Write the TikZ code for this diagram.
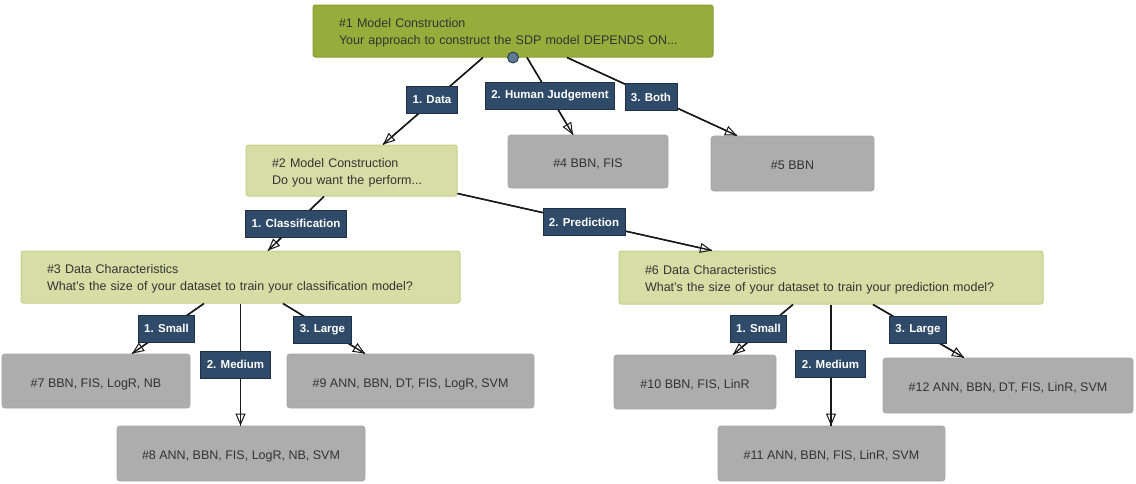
\documentclass[tikz,border=0pt]{standalone}
\usepackage{fontspec}
\setmainfont{Liberation Sans}
\usetikzlibrary{arrows.meta,calc}

\definecolor{rootfill}{HTML}{97AD3B}
\definecolor{rootedge}{HTML}{86A030}
\definecolor{qfill}{HTML}{D6DEA5}
\definecolor{qedge}{HTML}{C4D08C}
\definecolor{leaffill}{HTML}{ADADAD}
\definecolor{leafedge}{HTML}{A6A6A6}
\definecolor{tagfill}{HTML}{2F4B69}
\definecolor{tagedge}{HTML}{1D3045}
\definecolor{portfill}{HTML}{5E7B92}
\definecolor{ink}{HTML}{333333}

% tall strut opening the first line of a question box, so its text sits a little low
\newcommand{\qtop}{\rule{0pt}{13.5pt}}

\tikzset{
  question/.style={draw=qedge, fill=qfill, line width=1pt, rounded corners=2.5pt,
    text=ink, align=left, inner xsep=26pt, inner ysep=0pt,
    font=\fontsize{12.5}{17}\selectfont},
  rootq/.style={question, draw=rootedge, fill=rootfill},
  leaf/.style={draw=leafedge, fill=leaffill, line width=0.8pt, rounded corners=3pt,
    text=ink, inner sep=0pt, text height=12pt, text depth=0pt,
    font=\fontsize{12.5}{15}\selectfont},
  tag/.style={draw=tagedge, fill=tagfill, line width=0.9pt, text=white,
    minimum height=27pt, inner xsep=6pt, inner ysep=0pt,
    font=\bfseries\fontsize{11.5}{13}\selectfont},
  link/.style={draw=black!90, line width=1.4pt,
    -{Triangle[open, length=12pt, width=10pt, line width=1pt]},
    postaction={draw=black!90, line width=1.4pt, -}},
}

\begin{document}
\begin{tikzpicture}[x=1pt, y=-1pt]
\useasboundingbox[fill=white] (0,0) rectangle (1136,483);

% question boxes
\node[rootq, minimum width=400pt, text width=348pt, minimum height=52pt] (n1) at (513,31)
  {\qtop\#1 Model Construction\\Your approach to construct the SDP model DEPENDS ON...};
\node[question, minimum width=211pt, text width=159pt, minimum height=51pt] (n2) at (351.5,170.5)
  {\qtop\#2 Model Construction\\Do you want the perform...};
\node[question, minimum width=439pt, text width=387pt, minimum height=52pt] (n3) at (240.5,277)
  {\qtop\#3 Data Characteristics\\What's the size of your dataset to train your classification model?};
\node[question, minimum width=424pt, text width=372pt, minimum height=53pt] (n6) at (831,277.5)
  {\qtop\#6 Data Characteristics\\What's the size of your dataset to train your prediction model?};

% answer boxes
\node[leaf, minimum width=160pt, minimum height=53pt] (n4) at (588,161.5) {\#4 BBN, FIS};
\node[leaf, minimum width=163pt, minimum height=55pt] (n5) at (792.5,163.5) {\#5 BBN};
\node[leaf, minimum width=188pt, minimum height=54pt] (n7) at (96,381) {\#7 BBN, FIS, LogR, NB};
\node[leaf, minimum width=248pt, minimum height=55pt] (n8) at (241,453.5) {\#8 ANN, BBN, FIS, LogR, NB, SVM};
\node[leaf, minimum width=247pt, minimum height=54pt] (n9) at (410.5,381) {\#9 ANN, BBN, DT, FIS, LogR, SVM};
\node[leaf, minimum width=162pt, minimum height=54pt] (n10) at (695,382) {\#10 BBN, FIS, LinR};
\node[leaf, minimum width=227pt, minimum height=55pt] (n11) at (831.5,453.5) {\#11 ANN, BBN, FIS, LinR, SVM};
\node[leaf, minimum width=250pt, minimum height=55pt] (n12) at (1008,385.5) {\#12 ANN, BBN, DT, FIS, LinR, SVM};

% connectors
\draw[link] ([xshift=-30pt]n1.south) -- ([xshift=31.5pt]n2.north);
\draw[link] ([xshift=14pt]n1.south) -- ([xshift=-15pt]n4.north);
\draw[link] ([xshift=54pt]n1.south) -- ([xshift=-55.5pt]n5.north);
\draw[link] ([xshift=-27.5pt]n2.south) -- ([xshift=27.5pt]n3.north);
\draw[link] ([yshift=3pt]n2.south east) -- ([xshift=-119pt]n6.north);
\draw[link] ([xshift=-36.5pt]n3.south) -- ([xshift=36pt]n7.north);
\draw[link] (n3.south) -- (n3.south |- n8.north);
\draw[link] ([xshift=42.5pt]n3.south) -- ([xshift=-45.5pt]n9.north);
\draw[link] ([xshift=-38pt]n6.south) -- ([xshift=38pt]n10.north);
\draw[link] (n6.south) -- (n6.south |- n11.north);
\draw[link] ([xshift=42pt]n6.south) -- ([xshift=-44pt]n12.north);

% output port of the root question
\node[circle, draw=tagedge, fill=portfill, line width=0.8pt, minimum size=11pt, inner sep=0pt]
  (port) at (n1.south) {};

% answer tags
\node[tag] (t1) at (432,99.5) {1. Data};
\node[tag] (t2) at (550,96) {2. Human Judgement};
\node[tag] (t3) at (651,97) {3. Both};
\node[tag] (t4) at (296,223.5) {1. Classification};
\node[tag] (t5) at (584,222) {2. Prediction};
\node[tag] (t6) at (166.5,328.5) {1. Small};
\node[tag] (t7) at (235.5,364.5) {2. Medium};
\node[tag] (t8) at (322.5,329.5) {3. Large};
\node[tag] (t9) at (758.5,328.5) {1. Small};
\node[tag] (t10) at (830.5,364) {2. Medium};
\node[tag] (t11) at (918,330) {3. Large};
\end{tikzpicture}
\end{document}
